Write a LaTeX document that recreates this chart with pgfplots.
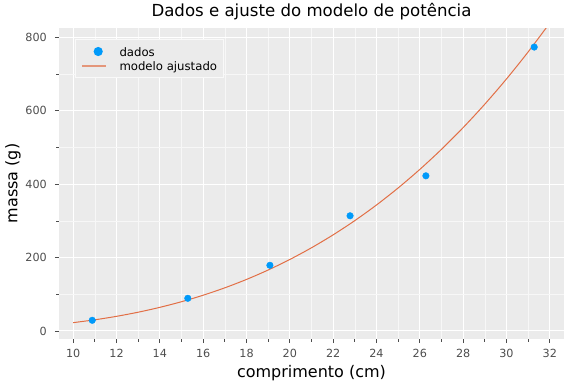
\documentclass[border=0pt]{standalone}
\usepackage{fontspec}
\setmainfont{DejaVu Sans}
\usepackage{pgfplots}
\pgfplotsset{compat=1.18}
\definecolor{bgcol}{HTML}{EBEBEB}
\definecolor{bluecol}{HTML}{009AFA}
\definecolor{orcol}{HTML}{E26F46}
\definecolor{tickcol}{HTML}{4D4D4D}
\begin{document}
\begin{tikzpicture}[x=1pt,y=1pt]
\path[use as bounding box] (-59,-45) rectangle (517,339);
\begin{axis}[
  scale only axis, width=505pt, height=311pt,
  xmin=9.345, xmax=32.655, ymin=-22, ymax=826,
  axis background/.style={fill=bgcol},
  axis line style={draw=none},
  tick pos=left, tick align=outside,
  xtick={10,12,...,32}, ytick={0,200,...,800},
  minor xtick={11,13,...,31}, minor ytick={100,300,500,700},
  grid=both,
  major grid style={white, line width=1.1pt},
  minor grid style={white!60!bgcol, line width=0.6pt},
  major tick style={tickcol, line width=0.8pt},
  minor tick style={tickcol, line width=0.8pt},
  major tick length=4pt, minor tick length=2.5pt,
  /pgf/number format/assume math mode=true,
  ticklabel style={font=\fontsize{11.2}{13}\selectfont, text=tickcol},
  xticklabel style={anchor=center, yshift=-10pt},
  yticklabel style={anchor=east, inner xsep=0pt, xshift=-8pt},
  title={Dados e ajuste do modelo de potência},
  title style={font=\fontsize{16.6}{19}\selectfont, at={(axis description cs:0.5,1.053)}, anchor=center, yshift=-6pt},
  xlabel={comprimento (cm)},
  xlabel style={font=\fontsize{16}{19}\selectfont, at={(axis description cs:0.5,-0.108)}, anchor=center},
  ylabel={massa (g)},
  ylabel style={font=\fontsize{16}{19}\selectfont, at={(axis description cs:-0.091,0.5)}, anchor=center},
  legend style={at={(axis description cs:0.0317,0.9646)}, anchor=north west,
    fill=bgcol, draw=white!70!bgcol, line width=1pt,
    font=\fontsize{11.7}{14}\selectfont,
    inner xsep=6pt, inner ysep=6.5pt, row sep=3pt,
    nodes={inner xsep=0pt, inner ysep=0pt, text height=10pt, text depth=1pt},
    /tikz/every odd column/.append style={column sep=14pt}},
  legend cell align=left,
]
\addplot[only marks, mark=*, color=bluecol, mark size=3.3pt, mark options={fill=bluecol, draw=bluecol},
  legend image code/.code={\path[draw=none] (0pt,0pt) -- (24pt,0pt); \path[fill=bluecol, draw=none] (16.7pt,0pt) circle (4.6pt);}]
  coordinates {(10.88,29) (15.29,89) (19.08,179) (22.78,314) (26.28,423) (31.28,774)};
\addlegendentry{dados}
\addplot[orcol, line width=1pt, smooth,
  legend image code/.code={\path[fill={rgb,255:red,228;green,150;blue,122}, draw=none] (0pt,-1pt) rectangle (24pt,1pt);}]
  coordinates {(10,22.6) (11,30.39) (12,39.83) (13,51.08) (14,64.31) (15,79.69) (16,97.39) (17,117.59) (18,140.44) (19,166.15) (20,194.87) (21,226.77) (22,262.07) (23,300.87) (24,343.43) (25,389.90) (26,440.43) (27,495.21) (28,554.45) (29,618.38) (30,687.11) (31,760.81) (32,839.70)};
\addlegendentry{modelo ajustado}
\end{axis}
\end{tikzpicture}
\end{document}
